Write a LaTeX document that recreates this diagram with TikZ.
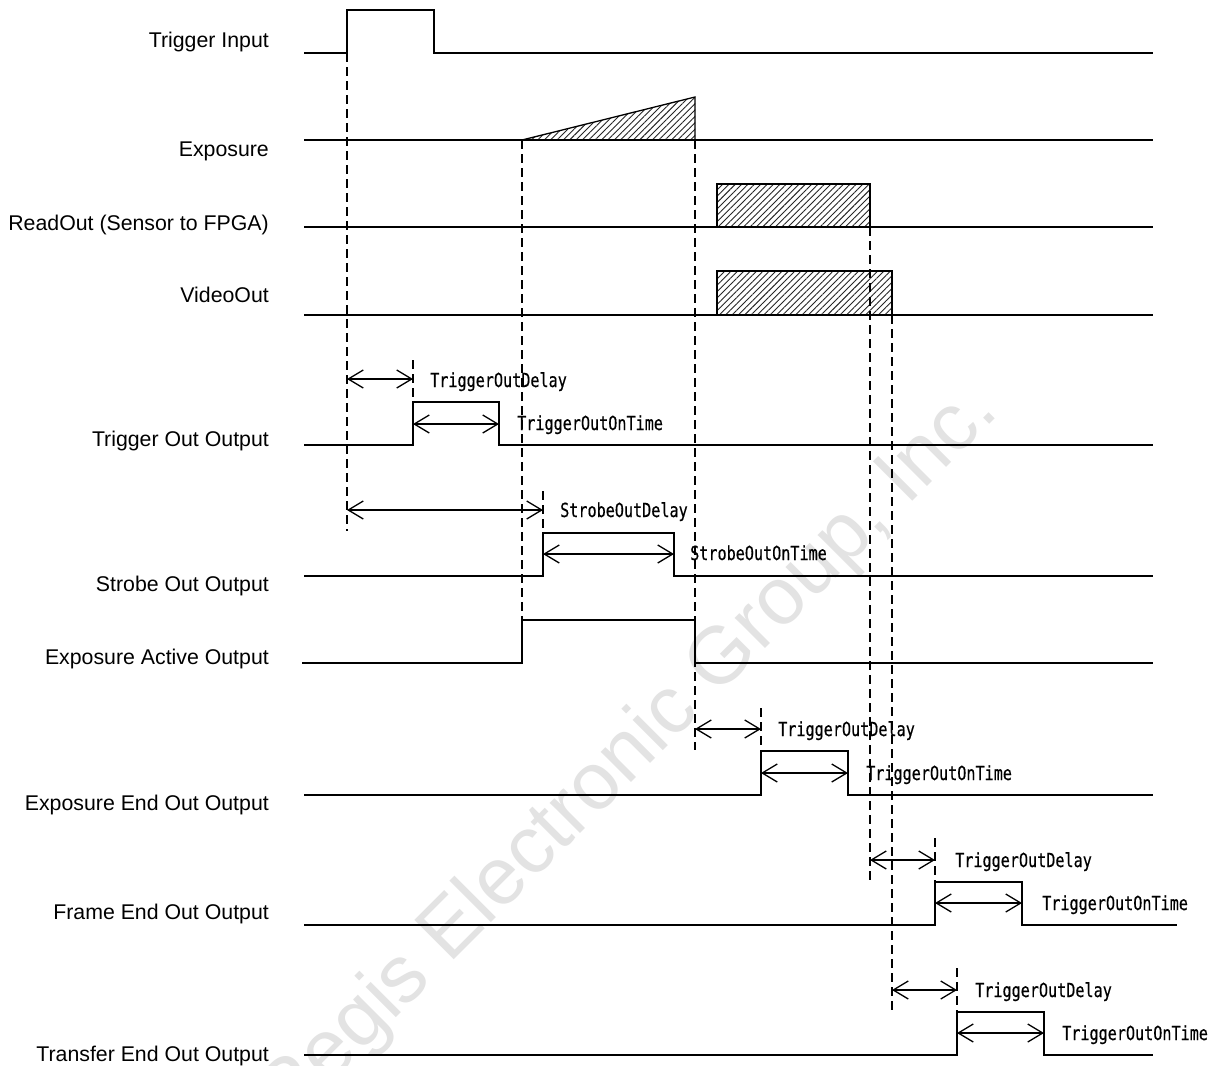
\documentclass[tikz,border=0pt]{standalone}
\usepackage{fontspec}
\setmainfont{Liberation Sans}
\newfontfamily\monofnt[FakeStretch=0.78,FakeBold=0.4]{DejaVu Sans Mono}
\usetikzlibrary{arrows.meta,patterns.meta}
\tikzset{
  sig/.style={line width=1.6pt, line join=miter},
  guide/.style={line width=1.3pt, dash pattern=on 9pt off 5pt},
  dim/.style={line width=1.3pt, {Straight Barb[length=15pt,width=18pt]}-{Straight Barb[length=15pt,width=18pt]}},
  hatchbox/.style={line width=1.3pt, pattern={Lines[angle=45,distance=4.5pt,line width=0.9pt]}, pattern color=black!85},
  lbl/.style={anchor=base east, inner sep=0pt, font=\fontsize{21.3}{25}\selectfont},
  tlbl/.style={anchor=base west, inner sep=0pt, font=\monofnt\fontsize{19.4}{22}\selectfont},
  wmark/.style={rotate=45, anchor=base west, inner sep=0pt, text=black!11, font=\fontsize{81}{90}\selectfont},
}
\begin{document}
\begin{tikzpicture}[x=1pt,y=-1pt]
\useasboundingbox[fill=white] (0,0) rectangle (1211,1066);
% watermark
\begin{scope}
\clip (0,0) rectangle (1211,1066);
\node[wmark] (wm) at (287,1127) {Regis Electronic Group, Inc.};
\end{scope}

% signal names
\node[lbl] (nTI) at (269,47) {Trigger Input};
\node[lbl] (nEX) at (269,156) {Exposure};
\node[lbl] (nRO) at (269,230) {ReadOut (Sensor to FPGA)};
\node[lbl] (nVO) at (269,302) {VideoOut};
\node[lbl] (nTO) at (269,446) {Trigger Out Output};
\node[lbl] (nSO) at (269,591) {Strobe Out Output};
\node[lbl] (nEA) at (269,664) {Exposure Active Output};
\node[lbl] (nEE) at (269,810) {Exposure End Out Output};
\node[lbl] (nFE) at (269,919) {Frame End Out Output};
\node[lbl] (nTE) at (269,1061) {Transfer End Out Output};

% hatched areas
\draw[hatchbox] (522,140) -- (695,97) -- (695,140) -- cycle;
\draw[hatchbox] (717,227) rectangle (870,184);
\draw[hatchbox] (717,315) rectangle (892,271);

% guide lines
\draw[guide] (347,53) -- (347,531);
\draw[guide] (522,140) -- (522,620);
\draw[guide] (695,140) -- (695,750);
\draw[guide] (413,360) -- (413,402);
\draw[guide] (543,491) -- (543,533);
\draw[guide] (870,227) -- (870,882);
\draw[guide] (892,315) -- (892,1012);
\draw[guide] (761,708) -- (761,751);
\draw[guide] (935,838) -- (935,882);
\draw[guide] (957,968) -- (957,1012);

% waveforms
\draw[sig] (304,53) -- (347,53) -- (347,10) -- (434,10) -- (434,53) -- (1153,53);
\draw[sig] (304,140) -- (1153,140);
\draw[sig] (304,227) -- (1153,227);
\draw[sig] (304,315) -- (1153,315);
\draw[sig] (304,445) -- (413,445) -- (413,402) -- (499,402) -- (499,445) -- (1153,445);
\draw[sig] (304,576) -- (543,576) -- (543,533) -- (674,533) -- (674,576) -- (1153,576);
\draw[sig] (302,663) -- (522,663) -- (522,620) -- (695,620) -- (695,663) -- (1153,663);
\draw[sig] (304,795) -- (761,795) -- (761,751) -- (848,751) -- (848,795) -- (1153,795);
\draw[sig] (304,925) -- (935,925) -- (935,882) -- (1022,882) -- (1022,925) -- (1177,925);
\draw[sig] (304,1055) -- (957,1055) -- (957,1012) -- (1044,1012) -- (1044,1055) -- (1153,1055);

% dimension arrows
\coordinate (a1) at (347,379);  \coordinate (b1) at (413,379);
\coordinate (a2) at (413,424);  \coordinate (b2) at (499,424);
\coordinate (a3) at (347,510);  \coordinate (b3) at (543,510);
\coordinate (a4) at (543,554);  \coordinate (b4) at (674,554);
\coordinate (a5) at (695,729);  \coordinate (b5) at (761,729);
\coordinate (a6) at (761,773);  \coordinate (b6) at (848,773);
\coordinate (a7) at (870,860);  \coordinate (b7) at (935,860);
\coordinate (a8) at (935,903);  \coordinate (b8) at (1022,903);
\coordinate (a9) at (892,990);  \coordinate (b9) at (957,990);
\coordinate (a10) at (957,1033); \coordinate (b10) at (1044,1033);
\foreach \i in {1,...,10} { \draw[dim] (a\i) -- (b\i); }

% timing labels
\node[tlbl] (t1) at (430,387) {TriggerOutDelay};
\node[tlbl] (t2) at (517,430) {TriggerOutOnTime};
\node[tlbl] (t3) at (560,517) {StrobeOutDelay};
\node[tlbl] (t4) at (690,560) {StrobeOutOnTime};
\node[tlbl] (t5) at (778,736) {TriggerOutDelay};
\node[tlbl] (t6) at (866,780) {TriggerOutOnTime};
\node[tlbl] (t7) at (955,867) {TriggerOutDelay};
\node[tlbl] (t8) at (1042,910) {TriggerOutOnTime};
\node[tlbl] (t9) at (975,997) {TriggerOutDelay};
\node[tlbl] (t10) at (1062,1040) {TriggerOutOnTime};
\end{tikzpicture}
\end{document}
